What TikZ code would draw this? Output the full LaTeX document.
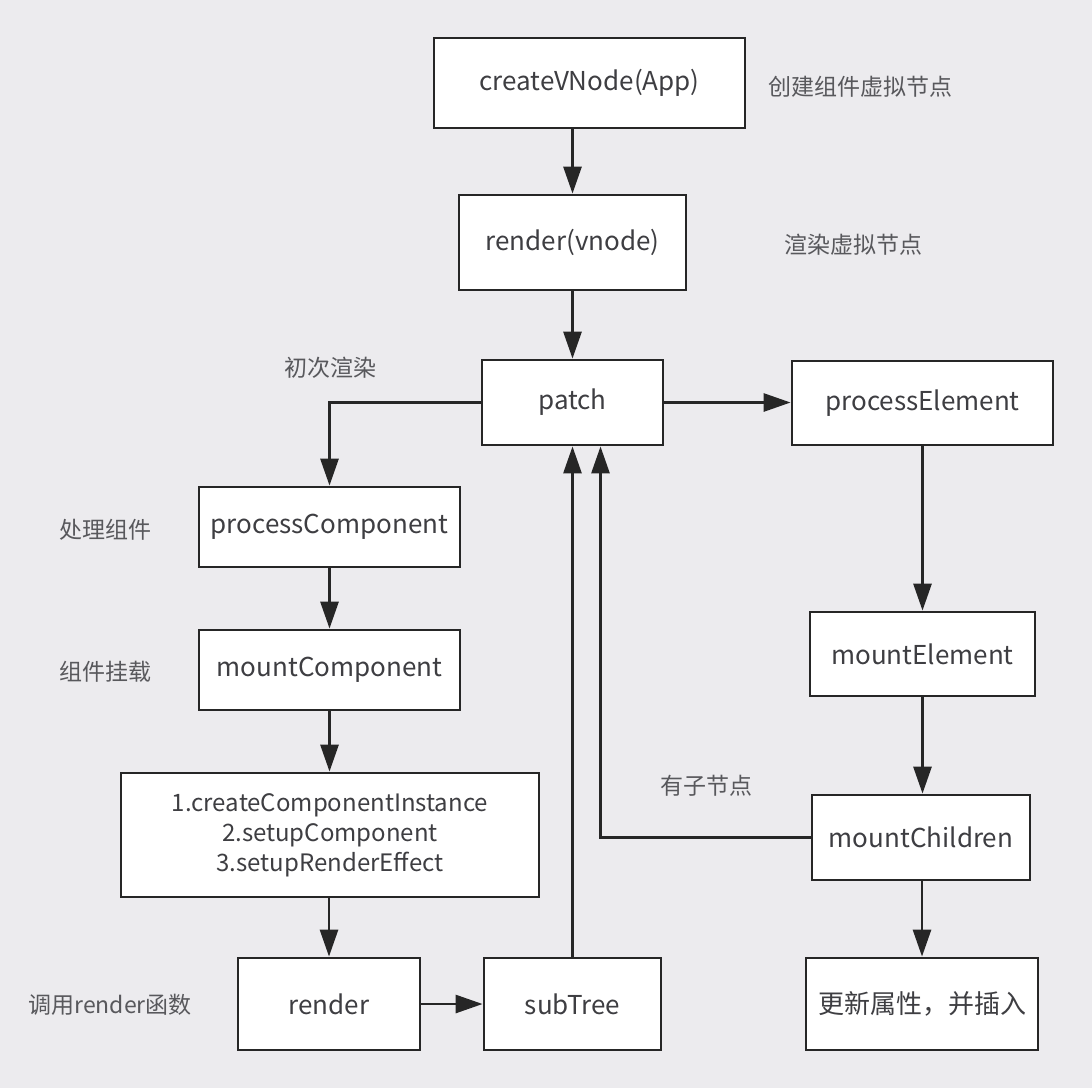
\documentclass[tikz,border=0pt]{standalone}
\usepackage{fontspec}
\setmainfont{Noto Sans CJK SC}
\usepackage{tikz}
\usetikzlibrary{arrows.meta, positioning}
\definecolor{bggray}{RGB}{236,235,238}
\definecolor{txtgray}{RGB}{62,62,66}
\definecolor{notegray}{RGB}{88,88,92}

\begin{document}
\begin{tikzpicture}[x=0.5pt, y=-0.5pt,
  box/.style={draw=black!85, fill=white, line width=1.4pt, text=txtgray,
    font=\fontsize{13}{16}\selectfont, align=center, inner sep=0pt},
  note/.style={text=notegray, font=\fontsize{11.5}{14}\selectfont},
  flow/.style={-{Triangle[length=13.5pt,width=9pt]}, line width=1.4pt, draw=black!85}]
  % background
  \fill[bggray] (0,0) rectangle (1092,1088);
  \useasboundingbox (0,0) rectangle (1092,1088);

  % main column
  \node[box, minimum width=155.5pt, minimum height=45pt] (app) at (589.5,83) {createVNode(App)};
  \node[box, minimum width=113.5pt, minimum height=47.5pt] (rvn) at (572.5,242.5) {render(vnode)};
  \node[box, minimum width=90.5pt, minimum height=42.5pt] (patch) at (572.5,402.5) {patch};

  % component branch
  \node[box, minimum width=130.5pt, minimum height=40pt] (procC) at (329.5,527) {processComponent};
  \node[box, minimum width=130.5pt, minimum height=40pt] (mountC) at (329.5,670) {mountComponent};
  \node[box, minimum width=209pt, minimum height=62pt, font=\fontsize{12}{15}\selectfont] (setup) at (330,835)
    {1.createComponentInstance\\2.setupComponent\\3.setupRenderEffect};
  \node[box, minimum width=91pt, minimum height=46pt] (rfn) at (329,1004) {render};
  \node[box, minimum width=88.5pt, minimum height=46pt] (sub) at (572.5,1004) {subTree};

  % element branch
  \node[box, minimum width=130.5pt, minimum height=42pt] (procE) at (922.5,403) {processElement};
  \node[box, minimum width=112.5pt, minimum height=42pt] (mountE) at (922.5,654) {mountElement};
  \node[box, minimum width=109pt, minimum height=42.5pt] (mountCh) at (921,837.5) {mountChildren};
  \node[box, minimum width=116pt, minimum height=46pt] (upd) at (922,1004) {更新属性，并插入};

  % notes
  \node[note] (nApp) at (860,87) {创建组件虚拟节点};
  \node[note] (nRvn) at (853,245) {渲染虚拟节点};
  \node[note] (nFirst) at (330,368) {初次渲染};
  \node[note] (nProcC) at (105,530) {处理组件};
  \node[note] (nMountC) at (105,672) {组件挂载};
  \node[note] (nKids) at (706,786) {有子节点};
  \node[note] (nRfn) at (110,1005) {调用render函数};

  \coordinate (back) at ([xshift=14pt]patch.south);

  % connectors
  \draw[flow] (app.south -| rvn.north) -- (rvn.north);
  \draw[flow] (rvn) -- (patch);
  \draw[flow] (patch.east) -- (patch.east -| procE.west);
  \draw[flow] (patch.west) -| (procC.north);
  \draw[flow] (procC) -- (mountC);
  \draw[flow] (mountC.south) -- (mountC.south |- setup.north);
  \draw[flow] (setup.south -| rfn.north) -- (rfn.north);
  \draw[flow] (rfn) -- (sub);
  \draw[flow] (sub) -- (patch);
  \draw[flow] (mountCh.west) -| (back);
  \draw[flow] (procE) -- (mountE);
  \draw[flow] (mountE.south) -- (mountE.south |- mountCh.north);
  \draw[flow] (mountCh.south -| upd.north) -- (upd.north);
\end{tikzpicture}
\end{document}
